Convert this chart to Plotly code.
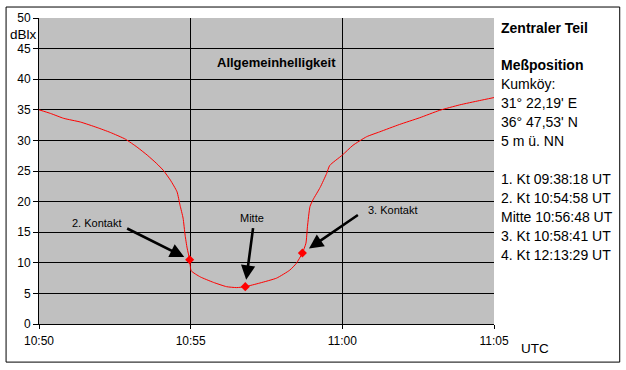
import plotly.graph_objects as go

DAY = "2006-03-29 "

# Measured brightness curve (time UTC, dBlx)
times = ["10:50:00", "10:50:23", "10:50:49", "10:51:22", "10:51:55", "10:52:21",
         "10:52:51", "10:53:14", "10:53:34", "10:53:53", "10:54:06", "10:54:20",
         "10:54:33", "10:54:39", "10:54:45", "10:54:49", "10:54:53", "10:54:58",
         "10:55:01", "10:55:19", "10:55:45", "10:56:11", "10:56:31", "10:56:48",
         "10:57:17", "10:57:50", "10:58:16", "10:58:29", "10:58:41", "10:58:48",
         "10:58:51", "10:58:56", "10:59:02", "10:59:16", "10:59:29", "10:59:35",
         "11:00:00", "11:00:21", "11:00:48", "11:01:14", "11:01:53", "11:02:33",
         "11:03:12", "11:03:52", "11:04:31", "11:05:00"]
values = [35.0, 34.4, 33.6, 33.0, 32.1, 31.3,
          30.2, 28.9, 27.6, 26.2, 25.1, 23.5,
          21.6, 19.4, 17.3, 14.5, 12.4, 10.5,
          8.7, 7.7, 6.8, 6.1, 5.95, 6.1,
          6.7, 7.5, 8.8, 9.9, 11.6, 13.2,
          15.9, 19.2, 20.3, 22.3, 24.6, 25.9,
          27.6, 29.2, 30.6, 31.4, 32.6, 33.7,
          34.9, 35.8, 36.5, 37.0]

# Contact markers
contact_labels = ["2. Kontakt", "Mitte", "3. Kontakt"]
contact_times = ["10:54:58", "10:56:48", "10:58:41"]
contact_values = [10.5, 6.1, 11.6]

# Axis ticks
x_ticks = ["10:50", "10:55", "11:00", "11:05"]
x_grid = ["10:55", "11:00"]
y_ticks = [0, 5, 10, 15, 20, 25, 30, 35, 40, 45, 50]
y_grid = [5, 10, 15, 20, 25, 30, 35, 40, 45]

# Side panel text
info_bold = ["Zentraler Teil", "Meßposition"]
info_lines = ["Kumköy:", "31° 22,19' E", "36° 47,53' N", "5 m ü. NN", "",
              "1. Kt 09:38:18 UT", "2. Kt 10:54:58 UT", "Mitte 10:56:48 UT",
              "3. Kt 10:58:41 UT", "4. Kt 12:13:29 UT"]

FONT = "Arial, 'Liberation Sans', sans-serif"

fig = go.Figure()
fig.add_trace(go.Scatter(
    x=[DAY + t for t in times], y=values, mode="lines",
    line=dict(color="#FF0000", width=1, shape="spline", smoothing=0.5),
    hoverinfo="skip", showlegend=False))
fig.add_trace(go.Scatter(
    x=[DAY + t for t in contact_times], y=contact_values, mode="markers",
    marker=dict(symbol="diamond", size=7, color="#FF0000"),
    showlegend=False))

W, H = 626, 370
L, R, T, B = 38.5, 131.5, 17.5, 45.7
pw = W - L - R
ph = H - T - B


def px(xp):
    return (xp - L) / pw


def py(yp):
    return (H - B - yp) / ph


annotations = []
# arrows pointing at contact markers (offsets in pixels)
arrow_offsets = [(-64, -32, 6), (8, -60, 7), (57, -39, 8)]
label_pos = [(97, 223), (252, 218), (393, 210)]
for lab, t, v, (ax_, ay_, so), (lx, ly) in zip(contact_labels, contact_times,
                                                contact_values, arrow_offsets, label_pos):
    annotations.append(dict(
        x=DAY + t, y=v, xref="x", yref="y", text="", showarrow=True,
        ax=ax_, ay=ay_, arrowhead=2, arrowsize=1.1, arrowwidth=2.6,
        arrowcolor="black", standoff=so))
    annotations.append(dict(
        x=px(lx), y=py(ly), xref="paper", yref="paper", text=lab,
        showarrow=False, xanchor="center", yanchor="middle",
        font=dict(family=FONT, size=11, color="black")))

annotations.append(dict(x=px(277), y=py(62), xref="paper", yref="paper",
                        text="<b>Allgemeinhelligkeit</b>", showarrow=False,
                        xanchor="center", yanchor="middle",
                        font=dict(family=FONT, size=13, color="black")))
annotations.append(dict(x=px(23), y=py(34.5), xref="paper", yref="paper",
                        text="dBlx", showarrow=False, xanchor="center",
                        yanchor="middle",
                        font=dict(family=FONT, size=13.5, color="black")))
annotations.append(dict(x=px(520), y=py(348.5), xref="paper", yref="paper",
                        text="UTC", showarrow=False, xanchor="left",
                        yanchor="middle",
                        font=dict(family=FONT, size=13.5, color="black")))

bold_y = [28, 65]
for txt, yy in zip(info_bold, bold_y):
    annotations.append(dict(x=px(500), y=py(yy), xref="paper", yref="paper",
                            text="<b>" + txt + "</b>", showarrow=False,
                            xanchor="left", yanchor="middle",
                            font=dict(family=FONT, size=14, color="black")))
y0 = 84
for i, txt in enumerate(info_lines):
    if not txt:
        continue
    annotations.append(dict(x=px(500), y=py(y0 + i * 19), xref="paper", yref="paper",
                            text=txt, showarrow=False,
                            xanchor="left", yanchor="middle",
                            font=dict(family=FONT, size=14, color="black")))

shapes = [dict(type="rect", xref="paper", yref="paper",
               x0=px(5.5), x1=px(620.5), y0=py(362.5), y1=py(6.5),
               line=dict(color="black", width=1), fillcolor="rgba(0,0,0,0)",
               layer="below")]

fig.update_layout(
    width=W, height=H,
    margin=dict(l=L, r=R, t=T, b=B, pad=0),
    paper_bgcolor="white", plot_bgcolor="#C0C0C0",
    font=dict(family=FONT, size=12, color="black"),
    annotations=annotations, shapes=shapes, showlegend=False,
    xaxis=dict(type="date",
               range=[DAY + "10:50:00", DAY + "11:05:00"],
               tickvals=[DAY + t + ":00" for t in x_ticks],
               ticktext=x_ticks,
               showgrid=False,
               minor=dict(tickvals=[DAY + t + ":00" for t in x_grid],
                          showgrid=True, gridcolor="black", gridwidth=1,
                          ticks=""),
               showline=True, linecolor="black", linewidth=1,
               ticks="outside", ticklen=4, tickcolor="black",
               tickfont=dict(size=12), zeroline=False,
               ticklabelstandoff=2),
    yaxis=dict(range=[0, 50], tickvals=y_ticks,
               showgrid=False,
               minor=dict(tickvals=y_grid, showgrid=True, gridcolor="black",
                          gridwidth=1, ticks=""),
               showline=True, linecolor="black", linewidth=1,
               ticks="outside", ticklen=5, tickcolor="black",
               tickfont=dict(size=12), zeroline=False),
)

fig.write_html("out.html",
               config={"displayModeBar": False},
               post_script="document.body.style.margin='0';"
                           "document.body.style.overflow='hidden';")
